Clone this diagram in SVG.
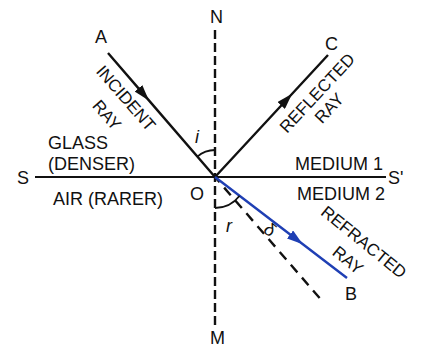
<svg xmlns="http://www.w3.org/2000/svg" width="421" height="348" viewBox="0 0 421 348">
<defs>
<style>
text{font-family:"Liberation Sans",Arial,sans-serif;font-size:18px;fill:#111}
.s{font-size:17px}
.ray{fill:none;stroke:#111;stroke-width:2.4}
.dash{fill:none;stroke:#111;stroke-width:2.4}
.arc{fill:none;stroke:#111;stroke-width:1.8}
</style>
<marker id="ah" viewBox="0 0 16 10" markerWidth="16" markerHeight="10" refX="10" refY="5" orient="auto" markerUnits="userSpaceOnUse">
<path d="M0,0 L16,5 L0,10 Z" fill="#111"/>
</marker>
<marker id="ahb" viewBox="0 0 16 10" markerWidth="16" markerHeight="10" refX="10" refY="5" orient="auto" markerUnits="userSpaceOnUse">
<path d="M0,0 L16,5 L0,10 Z" fill="#1f3fb4"/>
</marker>
</defs>
<rect width="421" height="348" fill="#fff"/>
<g id="connectors">
<line id="surface" x1="35" y1="177" x2="386" y2="177" stroke="#111" stroke-width="2"/>
<line id="normal" x1="215" y1="30" x2="215" y2="326" class="dash" stroke-dasharray="9,4"/>
<line id="extension" x1="215" y1="177" x2="323" y2="302" class="dash" stroke-dasharray="10,7" stroke-dashoffset="-14"/>
<path id="incident" class="ray" d="M108,53 L145,95.9 L215,177" marker-mid="url(#ah)"/>
<path id="reflected" class="ray" d="M215,177 L288,98.2 L328,55" marker-mid="url(#ah)"/>
<path id="refracted" d="M215,177 L298,240.5 L347,278" fill="none" stroke="#1f3fb4" stroke-width="2.4" marker-mid="url(#ahb)"/>
<path id="arc-i" class="arc" d="M215,150 A27,27 0 0 0 197.4,156.6"/>
<path id="arc-r" class="arc" d="M215,208 A31,31 0 0 0 239.6,195.8"/>
</g>
<g id="label-A"><text x="95" y="43">A</text></g>
<g id="label-N"><text x="210" y="23">N</text></g>
<g id="label-C"><text x="325" y="50">C</text></g>
<g id="label-M"><text x="210" y="344">M</text></g>
<g id="label-S"><text x="17" y="184">S</text></g>
<g id="label-S2"><text x="388" y="184">S'</text></g>
<g id="label-O"><text x="190" y="200">O</text></g>
<g id="label-B"><text x="345" y="300">B</text></g>
<g id="label-i"><text x="195" y="143" font-style="italic">i</text></g>
<g id="label-r"><text x="226" y="232" font-style="italic">r</text></g>
<g id="label-delta"><text transform="translate(270,230) rotate(40)" text-anchor="middle" y="6">δ</text></g>
<g id="incident-label">
<text class="s" transform="translate(126,98) rotate(49)" text-anchor="middle" y="6">INCIDENT</text>
<text class="s" transform="translate(107,115) rotate(49)" text-anchor="middle" y="6">RAY</text>
</g>
<g id="reflected-label">
<text class="s" transform="translate(317,93) rotate(-47)" text-anchor="middle" y="6">REFLECTED</text>
<text class="s" transform="translate(329,108) rotate(-47)" text-anchor="middle" y="6">RAY</text>
</g>
<g id="refracted-label">
<text class="s" transform="translate(364,242) rotate(39)" text-anchor="middle" y="6">REFRACTED</text>
<text class="s" transform="translate(348,260) rotate(39)" text-anchor="middle" y="6">RAY</text>
</g>
<g id="glass-label"><text x="48" y="149">GLASS</text><text x="48" y="170">(DENSER)</text></g>
<g id="air-label"><text x="53" y="205">AIR (RARER)</text></g>
<g id="medium1"><text x="295" y="170">MEDIUM 1</text></g>
<g id="medium2"><text x="297" y="200">MEDIUM 2</text></g>
</svg>
